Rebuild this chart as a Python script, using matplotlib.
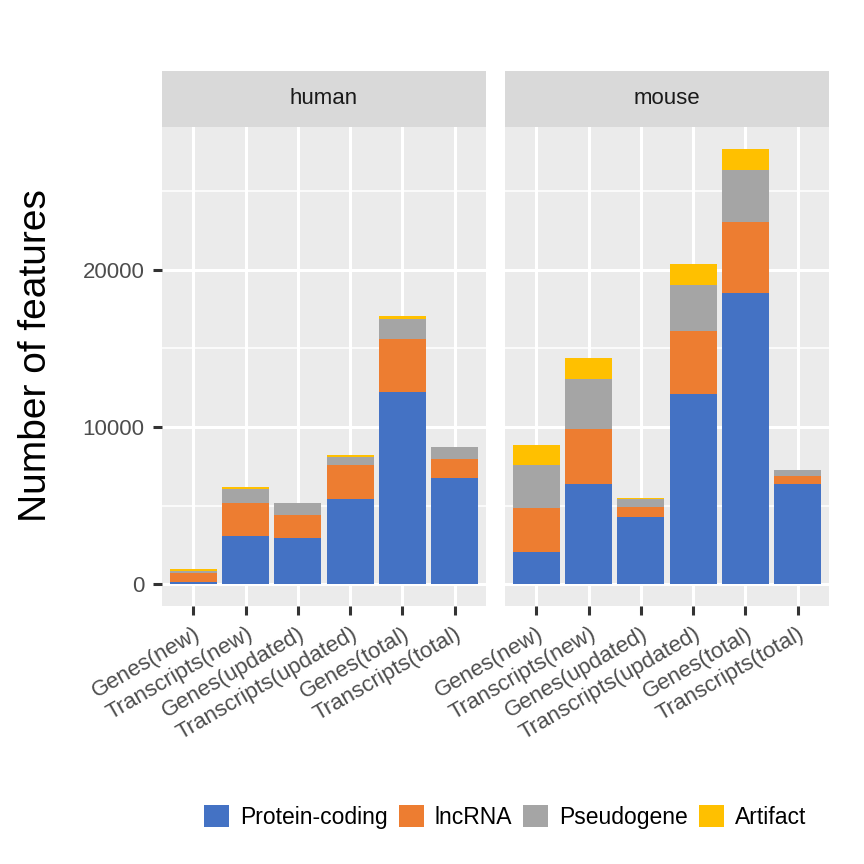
"""
Stacked bar chart: number of features per biotype, human vs mouse (ggplot-like facets).
"""

import matplotlib
matplotlib.use("Agg")
import matplotlib.pyplot as plt
from matplotlib.patches import Patch
import numpy as np

plt.rcParams["font.family"] = ["Liberation Sans", "DejaVu Sans"]

# ── Data ─────────────────────────────────────────────────────
categories = ["Genes(new)", "Transcripts(new)", "Genes(updated)",
              "Transcripts(updated)", "Genes(total)", "Transcripts(total)"]
biotypes = ["Protein-coding", "lncRNA", "Pseudogene", "Artifact"]
colors = ["#4472C4", "#ED7D31", "#A5A5A5", "#FFC000"]

human_protein = [110, 3070, 2970, 5440, 12240, 6730]
human_lncrna = [630, 2100, 1440, 2140, 3370, 1230]
human_pseudo = [130, 870, 740, 490, 1290, 800]
human_artifact = [110, 150, 20, 125, 150, 0]

mouse_protein = [2030, 6400, 4300, 12120, 18540, 6380]
mouse_lncrna = [2840, 3450, 615, 3980, 4530, 530]
mouse_pseudo = [2710, 3200, 510, 2950, 3300, 380]
mouse_artifact = [1270, 1340, 40, 1310, 1290, 0]

panels = {
    "human": [human_protein, human_lncrna, human_pseudo, human_artifact],
    "mouse": [mouse_protein, mouse_lncrna, mouse_pseudo, mouse_artifact],
}

# ── Figure ───────────────────────────────────────────────────
fig = plt.figure(figsize=(8.64, 8.64), dpi=100)
W = H = 864.0
bottom = 1 - 606 / H
top = 1 - 127 / H
strip_top = 1 - 71 / H
lefts = [162 / W, 505 / W]
width = 324 / W

x = np.arange(len(categories))
for i, (name, series) in enumerate(panels.items()):
    ax = fig.add_axes([lefts[i], bottom, width, top - bottom])
    ax.set_facecolor("#EBEBEB")
    base = np.zeros(len(categories))
    for vals, col in zip(series, colors):
        ax.bar(x, vals, bottom=base, width=0.9, color=col, zorder=3,
               edgecolor="none")
        base += np.array(vals)

    ax.set_xlim(-0.6, 5.6)
    ax.set_ylim(-1385, 29085)
    ax.set_yticks([0, 10000, 20000])
    ax.set_yticks([5000, 15000, 25000], minor=True)
    ax.set_xticks(x)
    ax.grid(which="major", color="white", linewidth=2.2, zorder=1)
    ax.grid(which="minor", axis="y", color="white", linewidth=1.1, zorder=1)
    ax.set_axisbelow(True)
    for s in ax.spines.values():
        s.set_visible(False)
    ax.tick_params(axis="both", which="major", color="#333333", width=2.2,
                   length=6.5, labelcolor="#4D4D4D", labelsize=16)
    ax.tick_params(axis="y", which="minor", length=0)
    ax.tick_params(axis="y", pad=6)
    ax.set_xticklabels(categories, rotation=30, ha="right", va="top",
                       rotation_mode="anchor", fontsize=16)
    ax.tick_params(axis="x", pad=6)
    if i > 0:
        ax.tick_params(axis="y", which="major", length=0, labelleft=False)

    # strip header
    sax = fig.add_axes([lefts[i], top, width, strip_top - top])
    sax.set_facecolor("#D9D9D9")
    sax.set_xticks([])
    sax.set_yticks([])
    for s in sax.spines.values():
        s.set_visible(False)
    sax.text(0.5, 0.5, name, ha="center", va="center", fontsize=16,
             color="#1A1A1A", transform=sax.transAxes)

# y-axis title, shared by both panels
fig.text(36 / W, 1 - 356 / H, "Number of features", rotation=90,
         ha="center", va="center", fontsize=28, color="black")

# ── Legend ───────────────────────────────────────────────────
handles = [Patch(facecolor=c, edgecolor="none", label=b)
           for c, b in zip(colors, biotypes)]
fig.legend(handles=handles, loc="center", bbox_to_anchor=(505 / W, 1 - 817 / H),
           ncol=4, frameon=False, fontsize=16.5, handlelength=1.1,
           handleheight=1.1, handletextpad=0.45, columnspacing=0.5)

fig.savefig("out.png", dpi=100)
